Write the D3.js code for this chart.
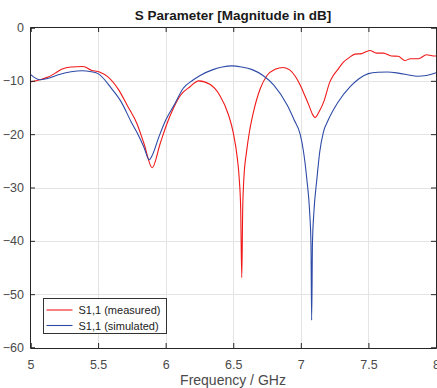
<!DOCTYPE html>
<html>
<head>
<meta charset="utf-8">
<script src="https://cdn.jsdelivr.net/npm/d3@7"></script>
<style>
body { margin: 0; background: #fff; }
svg { font-family: "Liberation Sans", Arial, sans-serif; }
</style>
</head>
<body>
<script>
// data
var xTicks = [5, 5.5, 6, 6.5, 7, 7.5, 8];
var yTicks = [0, -10, -20, -30, -40, -50, -60];

var measFreq = [5.0, 5.07, 5.13, 5.18, 5.23, 5.3, 5.39, 5.45, 5.51, 5.575, 5.65, 5.72, 5.787, 5.84, 5.9, 5.96, 6.01, 6.06, 6.11, 6.18, 6.245, 6.33, 6.4, 6.465, 6.5, 6.53, 6.545, 6.555, 6.563, 6.57, 6.578, 6.6, 6.62, 6.65, 6.7, 6.75, 6.81, 6.87, 6.92, 6.96, 6.995, 7.03, 7.06, 7.085, 7.105, 7.135, 7.17, 7.215, 7.24, 7.27, 7.315, 7.36, 7.4, 7.45, 7.51, 7.56, 7.61, 7.67, 7.72, 7.77, 7.81, 7.87, 7.93, 7.97, 8.0];
var measDb = [-10.2, -9.8, -9.3, -8.6, -7.85, -7.4, -7.3, -8.0, -8.35, -9.3, -11.6, -14.8, -18.0, -21.8, -26.3, -21.7, -18.0, -15.0, -12.7, -11.1, -10.0, -10.7, -12.7, -16.4, -19.7, -24.5, -28.6, -34.0, -46.9, -34.0, -28.6, -23.0, -19.5, -15.8, -11.45, -9.0, -7.85, -7.5, -8.0, -9.2, -10.8, -12.8, -14.6, -16.2, -16.9, -15.8, -13.9, -10.2, -9.0, -8.0, -6.5, -5.6, -5.0, -4.9, -4.3, -4.8, -4.8, -5.35, -5.4, -6.2, -5.85, -5.85, -5.1, -5.3, -5.35];

var simFreq = [5.0, 5.03, 5.07, 5.12, 5.2, 5.3, 5.38, 5.45, 5.5, 5.6, 5.67, 5.745, 5.79, 5.84, 5.878, 5.9, 5.95, 6.0, 6.07, 6.13, 6.2, 6.255, 6.35, 6.42, 6.49, 6.56, 6.64, 6.72, 6.8, 6.9, 6.95, 6.995, 7.02, 7.045, 7.065, 7.075, 7.08, 7.086, 7.097, 7.118, 7.14, 7.167, 7.2, 7.27, 7.365, 7.43, 7.5, 7.57, 7.64, 7.72, 7.8, 7.86, 7.93, 8.0];
var simDb = [-8.8, -9.4, -9.8, -9.6, -8.9, -8.3, -8.1, -8.3, -8.65, -11.45, -13.9, -17.7, -19.8, -22.5, -24.8, -24.0, -20.5, -17.4, -14.2, -11.4, -9.9, -9.0, -7.9, -7.4, -7.2, -7.4, -7.9, -9.0, -10.8, -14.6, -17.3, -20.0, -23.3, -28.6, -34.5, -40.5, -54.9, -40.5, -34.5, -28.6, -23.3, -19.6, -17.5, -14.2, -11.1, -9.6, -8.65, -8.4, -8.35, -8.55, -8.9, -9.15, -9.0, -8.5];

var legendLabels = ["S1,1 (measured)", "S1,1 (simulated)"];
var colors = ["#f01818", "#2d4aa6"];

var W = 437, H = 388;
var margin = {top: 27, right: 1, bottom: 40, left: 30};
var width = W - margin.left - margin.right,
    height = H - margin.top - margin.bottom;

var svg = d3.select("body").append("svg")
    .attr("width", W)
    .attr("height", H);

var g = svg.append("g")
    .attr("transform", "translate(" + margin.left + "," + margin.top + ")");

var x = d3.scaleLinear().domain([5, 8]).range([0.5, width]);
var y = d3.scaleLinear().domain([-60, 0]).range([height - 0.5, 0.5]);

// grid
g.append("g").selectAll("line")
  .data(xTicks.slice(1, -1))
  .enter().append("line")
    .attr("x1", function(d) { return Math.round(x(d)) + 0.5; })
    .attr("x2", function(d) { return Math.round(x(d)) + 0.5; })
    .attr("y1", 0).attr("y2", height)
    .attr("stroke", "#e4e4e4");
g.append("g").selectAll("line")
  .data(yTicks.slice(1, -1))
  .enter().append("line")
    .attr("y1", function(d) { return Math.round(y(d)) + 0.5; })
    .attr("y2", function(d) { return Math.round(y(d)) + 0.5; })
    .attr("x1", 0).attr("x2", width)
    .attr("stroke", "#e4e4e4");

// curves
var line = d3.line()
    .curve(d3.curveMonotoneX)
    .x(function(d) { return x(d[0]); })
    .y(function(d) { return y(d[1]); });

var meas = measFreq.map(function(f, i) { return [f, measDb[i]]; });
var sim = simFreq.map(function(f, i) { return [f, simDb[i]]; });

g.append("path").datum(meas)
    .attr("d", line).attr("fill", "none")
    .attr("stroke", colors[0]).attr("stroke-width", 1.1);
g.append("path").datum(sim)
    .attr("d", line).attr("fill", "none")
    .attr("stroke", colors[1]).attr("stroke-width", 1.1);

// axes
var axisColor = "#262626";
g.append("g")
    .attr("transform", "translate(0," + height + ")")
    .call(d3.axisBottom(x).tickValues(xTicks).tickSize(-5).tickPadding(12).tickFormat(d3.format("")));
g.append("g")
    .call(d3.axisLeft(y).tickValues(yTicks).tickSize(-5).tickPadding(6).tickFormat(d3.format("")));
g.append("g")
    .call(d3.axisTop(x).tickValues(xTicks).tickSize(-5).tickFormat(""));
g.append("g")
    .attr("transform", "translate(" + width + ",0)")
    .call(d3.axisRight(y).tickValues(yTicks).tickSize(-5).tickFormat(""));

g.selectAll(".domain").attr("stroke", axisColor);
g.selectAll(".tick line").attr("stroke", axisColor);
g.selectAll(".tick text")
    .attr("fill", "#4a4a4a")
    .style("font-size", "12.5px")
    .style("font-family", "'Liberation Sans', Arial, sans-serif");

// title and label
svg.append("text")
    .attr("x", margin.left + width / 2).attr("y", 20)
    .attr("text-anchor", "middle")
    .style("font-size", "13.5px").style("font-weight", "bold")
    .attr("fill", "#1a1a1a")
    .text("S Parameter [Magnitude in dB]");

svg.append("text")
    .attr("x", margin.left + width / 2).attr("y", 385)
    .attr("text-anchor", "middle")
    .style("font-size", "14px")
    .attr("fill", "#4a4a4a")
    .text("Frequency / GHz");

// legend
var lg = svg.append("g").attr("transform", "translate(43.5,298.5)");
lg.append("rect")
    .attr("width", 123).attr("height", 35)
    .attr("fill", "#fff").attr("stroke", "#333");
legendLabels.forEach(function(label, i) {
  var yy = 11.5 + i * 15.5;
  lg.append("line")
    .attr("x1", 3).attr("x2", 29).attr("y1", yy).attr("y2", yy)
    .attr("stroke", colors[i]).attr("stroke-width", 1.1);
  lg.append("text")
    .attr("x", 35).attr("y", yy + 4)
    .style("font-size", "11px")
    .attr("fill", "#222")
    .text(label);
});
</script>
</body>
</html>
